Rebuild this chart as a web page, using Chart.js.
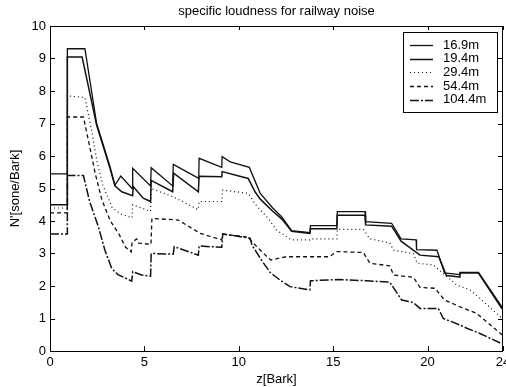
<!DOCTYPE html>
<html><head><meta charset="utf-8">
<script src="https://cdn.jsdelivr.net/npm/chart.js@4.4.1/dist/chart.umd.min.js"></script>
<style>html,body{margin:0;padding:0;background:#fff}</style>
</head><body>
<canvas id="c" width="506" height="387"></canvas>
<script>
// ---- data (z in Bark, N' in sone/Bark) ----
const seriesLabels = ['16.9m', '19.4m', '29.4m', '54.4m', '104.4m'];
const xTicks = [0, 5, 10, 15, 20, 24];
const yTicks = [0, 1, 2, 3, 4, 5, 6, 7, 8, 9, 10];

const z169 = [0, 0.92, 0.92, 1.85, 2.47, 3.18, 3.44, 3.75, 4.35, 4.38, 5.33, 5.36, 6.5, 6.53, 7.88, 7.9, 9.1, 9.12, 9.55, 10.56, 11.13, 11.8, 12.27, 12.8, 13.77, 13.8, 15.2, 15.22, 16.69, 16.72, 18.1, 18.6, 19.4, 19.42, 20.5, 20.9, 21.7, 21.72, 22.7, 23.95];
const v169 = [5.45, 5.45, 9.3, 9.3, 7.0, 5.67, 5.1, 5.38, 5.0, 5.62, 5.08, 5.64, 5.08, 5.74, 5.31, 5.93, 5.65, 5.98, 5.82, 5.65, 4.86, 4.4, 4.13, 3.7, 3.64, 3.86, 3.86, 4.29, 4.29, 3.98, 3.93, 3.45, 3.42, 3.12, 3.1, 2.4, 2.35, 2.42, 2.42, 1.35];

const z194 = [0, 0.92, 0.92, 1.7, 2.47, 3.18, 3.44, 3.8, 4.38, 4.41, 4.94, 5.33, 5.36, 6.5, 6.55, 7.86, 7.9, 9.1, 9.12, 10.5, 10.86, 11.13, 11.8, 12.3, 12.8, 13.77, 13.8, 15.2, 15.22, 16.69, 16.72, 18.1, 18.6, 19.6, 20.6, 21.0, 21.7, 21.72, 22.7, 23.95];
const v194 = [4.5, 4.5, 9.05, 9.05, 6.95, 5.62, 5.08, 4.9, 4.78, 5.06, 4.7, 4.6, 5.25, 4.9, 5.47, 4.9, 5.38, 5.36, 5.52, 5.31, 4.9, 4.68, 4.3, 4.05, 3.68, 3.62, 3.76, 3.76, 4.18, 4.18, 3.88, 3.84, 3.38, 2.95, 2.9, 2.32, 2.28, 2.4, 2.4, 1.3];

const z294 = [0, 0.92, 0.92, 1.85, 2.2, 2.5, 2.8, 3.3, 3.8, 4.35, 4.38, 5.33, 5.36, 6.5, 7.85, 7.9, 9.1, 9.14, 10.5, 10.9, 11.6, 12.0, 12.8, 13.77, 13.8, 15.2, 15.22, 16.6, 16.95, 18.0, 18.2, 19.25, 19.45, 20.3, 21.55, 22.25, 22.78, 23.95];
const v294 = [4.4, 4.4, 7.85, 7.8, 6.8, 5.8, 5.1, 4.4, 4.2, 4.1, 4.5, 4.3, 5.0, 4.75, 4.35, 4.6, 4.6, 4.95, 4.85, 4.5, 4.05, 3.72, 3.42, 3.42, 3.45, 3.45, 3.74, 3.74, 3.45, 3.33, 3.1, 3.0, 2.7, 2.65, 2.03, 1.88, 1.62, 1.0];

const z544 = [0, 0.92, 0.92, 1.77, 2.1, 2.4, 2.75, 3.2, 3.65, 4.0, 4.3, 4.35, 4.6, 4.7, 5.35, 5.4, 6.8, 7.95, 9.1, 9.15, 10.5, 10.8, 11.5, 11.7, 12.5, 14.8, 15.2, 16.6, 16.95, 18.0, 18.2, 19.25, 19.6, 20.4, 20.9, 21.8, 22.6, 23.95];
const v544 = [4.25, 4.25, 7.2, 7.2, 6.3, 5.45, 4.65, 4.0, 3.6, 3.2, 3.05, 3.35, 3.45, 3.32, 3.28, 4.08, 4.03, 3.62, 3.42, 3.6, 3.5, 3.3, 2.9, 2.8, 2.9, 2.9, 3.06, 3.03, 2.7, 2.62, 2.34, 2.27, 1.96, 1.93, 1.57, 1.34, 1.16, 0.5];

const z1044 = [0, 0.92, 0.92, 1.77, 2.1, 2.56, 2.91, 3.27, 3.6, 3.97, 4.33, 4.38, 4.86, 5.33, 5.36, 6.53, 6.58, 7.86, 7.9, 9.1, 9.15, 10.6, 10.7, 11.2, 11.66, 12.19, 12.72, 13.77, 13.8, 15.28, 16.78, 18.0, 18.63, 19.25, 19.6, 20.57, 20.84, 21.72, 22.08, 22.78, 23.95];
const v1044 = [3.6, 3.6, 5.4, 5.4, 4.6, 3.83, 3.1, 2.54, 2.35, 2.25, 2.15, 2.44, 2.34, 2.3, 3.0, 2.98, 3.21, 2.95, 3.23, 3.19, 3.6, 3.47, 3.26, 2.8, 2.42, 2.18, 1.98, 1.88, 2.16, 2.2, 2.16, 2.12, 1.57, 1.49, 1.31, 1.31, 1.0, 0.8, 0.7, 0.54, 0.22];

// ---- styles ----
const FONT = '"Liberation Sans", Arial, Helvetica, sans-serif';
const INK = '#111';
const styles = [
  {w: 1.3, dash: []},
  {w: 1.5, dash: []},
  {w: 1.2, dash: [1, 3]},
  {w: 1.3, dash: [4, 3]},
  {w: 1.5, dash: [9, 2, 2, 2]}
];
const zs = [z169, z194, z294, z544, z1044];
const vs = [v169, v194, v294, v544, v1044];

const datasets = seriesLabels.map((lab, i) => ({
  label: lab,
  data: zs[i].map((z, k) => ({x: z, y: vs[i][k]})),
  borderColor: INK,
  borderWidth: styles[i].w,
  borderDash: styles[i].dash,
  pointRadius: 0,
  tension: 0,
  fill: false
}));

const framePlugin = {
  id: 'frame',
  afterDraw(chart) {
    const {ctx, chartArea: a, scales: {x, y}} = chart;
    ctx.save();
    ctx.strokeStyle = '#000';
    ctx.lineWidth = 1;
    ctx.setLineDash([]);
    ctx.strokeRect(Math.round(a.left) + 0.5, Math.round(a.top) + 0.5, Math.round(a.right - a.left) - 1, Math.round(a.bottom - a.top));
    ctx.beginPath();
    xTicks.forEach(v => {
      const px = Math.round(x.getPixelForValue(v)) + 0.5;
      ctx.moveTo(px, a.bottom); ctx.lineTo(px, a.bottom - 5);
      ctx.moveTo(px, a.top); ctx.lineTo(px, a.top + 4);
    });
    yTicks.forEach(v => {
      const py = Math.round(y.getPixelForValue(v)) + 0.5;
      ctx.moveTo(a.left, py); ctx.lineTo(a.left + 5, py);
      ctx.moveTo(a.right, py); ctx.lineTo(a.right - 5, py);
    });
    ctx.stroke();
    ctx.restore();
  }
};

const legendPlugin = {
  id: 'boxLegend',
  afterDraw(chart) {
    const {ctx} = chart;
    const bx = 403.5, by = 32.5, bw = 94, bh = 80;
    ctx.save();
    ctx.fillStyle = '#fff';
    ctx.fillRect(bx, by, bw, bh);
    ctx.strokeStyle = '#000';
    ctx.lineWidth = 1;
    ctx.setLineDash([]);
    ctx.strokeRect(bx, by, bw, bh);
    ctx.font = '13px ' + FONT;
    ctx.fillStyle = '#000';
    ctx.textBaseline = 'middle';
    ctx.textAlign = 'left';
    chart.data.datasets.forEach((ds, i) => {
      const yy = 45 + i * 13.7;
      ctx.beginPath();
      ctx.strokeStyle = INK;
      ctx.lineWidth = ds.borderWidth;
      ctx.setLineDash(ds.borderDash);
      ctx.moveTo(410, Math.round(yy) + 0.5);
      ctx.lineTo(433, Math.round(yy) + 0.5);
      ctx.stroke();
      ctx.setLineDash([]);
      ctx.fillText(ds.label, 443, yy);
    });
    ctx.restore();
  }
};

const tickFont = {family: FONT, size: 13, weight: 'normal', lineHeight: 1.2};

new Chart(document.getElementById('c'), {
  type: 'line',
  data: {datasets},
  options: {
    responsive: false,
    animation: false,
    events: [],
    layout: {padding: {left: 0, right: 3, top: 0, bottom: 0}},
    plugins: {
      legend: {display: false},
      tooltip: {enabled: false},
      title: {
        display: true,
        text: 'specific loudness for railway noise',
        fullSize: false,
        color: '#000',
        font: {family: FONT, size: 13, weight: 'normal', lineHeight: 1.2},
        padding: {top: 3.2, bottom: 7.2}
      }
    },
    scales: {
      x: {
        type: 'linear', min: 0, max: 24,
        grid: {display: false, drawTicks: false},
        border: {display: false},
        ticks: {color: '#000', font: tickFont, padding: 3.2, maxRotation: 0, autoSkip: false},
        afterBuildTicks: s => { s.ticks = xTicks.map(v => ({value: v})); },
        afterFit: s => { s.height = 36; s.paddingLeft = 0; s.paddingRight = 0; },
        title: {display: true, text: 'z[Bark]', color: '#000', font: tickFont, padding: {top: 0, bottom: 0}}
      },
      y: {
        type: 'linear', min: 0, max: 10,
        grid: {display: false, drawTicks: false},
        border: {display: false},
        ticks: {color: '#000', font: tickFont, padding: 4, stepSize: 1, autoSkip: false},
        afterBuildTicks: s => { s.ticks = yTicks.map(v => ({value: v})); },
        afterFit: s => { s.width = 50; s.paddingTop = 0; s.paddingBottom = 0; },
        title: {display: true, text: "N'[sone/Bark]", color: '#000', font: tickFont, padding: {top: 7.2, bottom: 0}}
      }
    }
  },
  plugins: [framePlugin, legendPlugin]
});
</script>
</body></html>
